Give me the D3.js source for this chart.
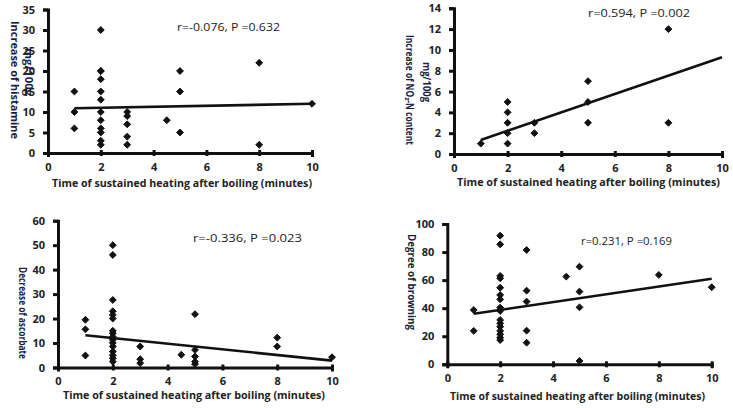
<!DOCTYPE html>
<html><head><meta charset="utf-8">
<script src="https://cdn.jsdelivr.net/npm/d3@7"></script>
<style>body{margin:0;background:#fff}svg{display:block}</style>
</head><body>
<script>
// ---- data ----
const xTitle = "Time of sustained heating after boiling (minutes)";
const xTicks = [0, 2, 4, 6, 8, 10];

const p1X = [1,1,1, 2,2,2,2,2,2,2,2,2,2,2,2, 3,3,3,3,3, 4.5, 5,5,5, 8,8, 10];
const p1Y = [15,10,6, 30,20,20,18,15,13,10,8,6,5,3,2, 10,9,7,4,2, 8, 20,15,5, 22,2, 12];
const p1Trend = [[1, 10.9], [10, 12.0]];
const p1Note = "r=-0.076, P =0.632";
const p1Label = ["Increase of histamine", "mg/100g"];
const p1Ticks = [0,5,10,15,20,25,30,35];

const p2X = [1, 2,2,2,2,2, 3,3, 5,5,5, 8,8];
const p2Y = [1, 5,4,3,2,1, 3,2, 7,5,3, 12,3];
const p2Trend = [[1, 1.35], [10, 9.3]];
const p2Note = "r=0.594, P =0.002";
const p2Label = ["Increase of NO\u2082-N content", "mg/100g"];
const p2Ticks = [0,2,4,6,8,10,12,14];

const p3X = [1,1,1, 2,2,2,2,2,2,2,2,2,2,2,2,2,2,2,2, 3,3,3, 4.5, 5,5,5,5,5, 8,8, 10];
const p3Y = [19.5,15.6,4.9, 50,46,27.6,23,21.5,20,15,14,12.6,11.3,10,8.6,6.5,5,3.8,2.4, 8.6,3.4,1.8, 5.2, 21.8,7.2,4.5,2.4,1.4, 12.2,8.6, 4.2];
const p3Trend = [[1, 13.2], [10, 2.8]];
const p3Note = "r=-0.336, P =0.023";
const p3Label = ["Decrease of ascorbate"];
const p3Ticks = [0,10,20,30,40,50,60];

const p4X = [1,1, 2,2,2,2,2,2,2,2,2,2,2,2,2,2,2,2, 3,3,3,3,3, 4.5, 5,5,5,5, 8, 10];
const p4Y = [38.7,23.8, 91.7,85.5,63,61.3,54.6,49.4,46.3,40.4,38,31.6,29.2,26.8,23.8,21.4,19,17.3, 81.5,52.5,44.7,24,15.4, 62.5, 69.6,51.8,40.6,2.4, 63.7, 54.9];
const p4Trend = [[1, 36.0], [10, 61.0]];
const p4Note = "r=0.231, P =0.169";
const p4Label = ["Degree of browning"];
const p4Ticks = [0,20,40,60,80,100];

// ---- layout ----
const panels = [
  {xs:p1X, ys:p1Y, trend:p1Trend, note:p1Note, label:p1Label, ticks:p1Ticks,
   x0:48, x1:312, y0:153, y1:9.5, noteX:177, noteY:31, noteW:103,
   labX:[14,28], labY:[80,72], labLen:[118,48], titleY:187, titleX:52, titleW:260},
  {xs:p2X, ys:p2Y, trend:p2Trend, note:p2Note, label:p2Label, ticks:p2Ticks,
   x0:454, x1:722, y0:154, y1:8.3, noteX:588, noteY:17, noteW:102,
   labX:[409,426], labY:[90,82], labLen:[110,40], titleY:186, titleX:457, titleW:263},
  {xs:p3X, ys:p3Y, trend:p3Trend, note:p3Note, label:p3Label, ticks:p3Ticks,
   x0:58, x1:332, y0:367.5, y1:220.7, noteX:193, noteY:242, noteW:109,
   labX:[22], labY:[313], labLen:[92], titleY:399, titleX:63, titleW:262},
  {xs:p4X, ys:p4Y, trend:p4Trend, note:p4Note, label:p4Label, ticks:p4Ticks,
   x0:447.3, x1:711.7, y0:364.3, y1:224, noteX:581, noteY:245, noteW:91,
   labX:[411], labY:[282], labLen:[96], titleY:400, titleX:450, titleW:255}
];

const W = 733, H = 408;
const svg = d3.select("body").append("svg").attr("width", W).attr("height", H);
const ink = "#111";
const font = "'Open Sans', 'DejaVu Sans', sans-serif";

panels.forEach(p => {
  const yMax = p.ticks[p.ticks.length - 1];
  const x = d3.scaleLinear().domain([0, 10]).range([p.x0, p.x1]);
  const y = d3.scaleLinear().domain([0, yMax]).range([p.y0, p.y1]);
  const g = svg.append("g");

  const ya = g.append("g").attr("transform", `translate(${p.x0},0)`)
    .call(d3.axisLeft(y).tickValues(p.ticks).tickSize(5).tickPadding(8).tickFormat(d3.format("d")));
  const xa = g.append("g").attr("transform", `translate(0,${p.y0})`)
    .call(d3.axisBottom(x).tickValues(xTicks).tickSize(4).tickPadding(6).tickFormat(d3.format("d")));
  [ya, xa].forEach(a => {
    a.select(".domain").attr("stroke", ink).attr("stroke-width", 3);
    a.selectAll(".tick line").attr("stroke", ink).attr("stroke-width", 3);
    a.selectAll(".tick text").attr("fill", "#222").attr("font-family", font)
      .attr("font-size", 11).attr("font-weight", "bold");
  });
  xa.selectAll(".tick line").attr("y1", -3).attr("y2", 3);

  g.append("line")
    .attr("x1", x(p.trend[0][0])).attr("y1", y(p.trend[0][1]))
    .attr("x2", x(p.trend[1][0])).attr("y2", y(p.trend[1][1]))
    .attr("stroke", ink).attr("stroke-width", 2.6);

  const sym = d3.symbol().type(d3.symbolDiamond2).size(30);
  g.selectAll("path.pt").data(p.xs.map((v, i) => [v, p.ys[i]])).join("path")
    .attr("class", "pt")
    .attr("transform", d => `translate(${x(d[0])},${y(d[1])})`)
    .attr("d", sym).attr("fill", ink).attr("stroke", ink).attr("stroke-width", 1)
    .attr("stroke-linejoin", "round");

  g.append("text").attr("x", p.noteX).attr("y", p.noteY)
    .attr("font-family", font).attr("font-size", 11.5).attr("fill", "#222")
    .attr("textLength", p.noteW).attr("lengthAdjust", "spacingAndGlyphs")
    .text(p.note);

  g.append("text").attr("x", p.titleX).attr("y", p.titleY)
    .attr("font-family", font).attr("font-size", 11).attr("font-weight", "bold").attr("fill", "#222")
    .attr("textLength", p.titleW).attr("lengthAdjust", "spacingAndGlyphs")
    .text(xTitle);

  p.label.forEach((t, i) => {
    g.append("text")
      .attr("transform", `translate(${p.labX[i]},${p.labY[i]}) rotate(90)`)
      .attr("text-anchor", "middle").attr("dy", "0.35em")
      .attr("font-family", font).attr("font-size", 10).attr("font-weight", "bold")
      .attr("fill", "#1a2040")
      .attr("textLength", p.labLen[i]).attr("lengthAdjust", "spacingAndGlyphs")
      .text(t);
  });
});
</script>
</body></html>
